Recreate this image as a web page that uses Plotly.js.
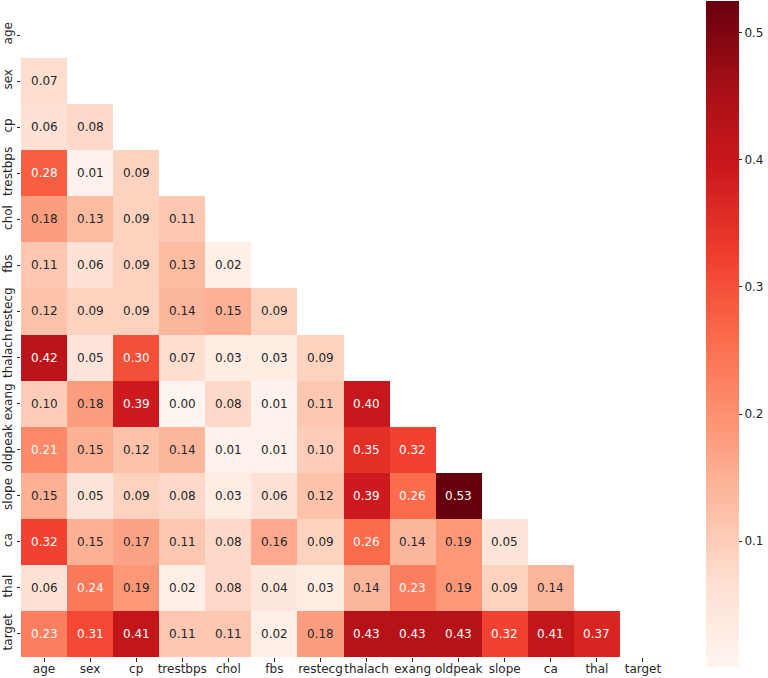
<!DOCTYPE html>
<html>
<head>
<meta charset="utf-8">
<script src="https://cdn.plot.ly/plotly-3.0.1.min.js"></script>
<style>html,body{margin:0;padding:0;background:#fff;}#chart{width:768px;height:678px;}</style>
</head>
<body>
<div id="chart"></div>
<script>
const labels = ["age","sex","cp","trestbps","chol","fbs","restecg","thalach","exang","oldpeak","slope","ca","thal","target"];
// lower-triangle absolute correlations, row by row (row i has i values)
const row_sex      = [0.07];
const row_cp       = [0.06, 0.08];
const row_trestbps = [0.28, 0.01, 0.09];
const row_chol     = [0.18, 0.13, 0.09, 0.11];
const row_fbs      = [0.11, 0.06, 0.09, 0.13, 0.02];
const row_restecg  = [0.12, 0.09, 0.09, 0.14, 0.15, 0.09];
const row_thalach  = [0.42, 0.05, 0.30, 0.07, 0.03, 0.03, 0.09];
const row_exang    = [0.10, 0.18, 0.39, 0.001, 0.08, 0.01, 0.11, 0.40];
const row_oldpeak  = [0.21, 0.15, 0.12, 0.14, 0.01, 0.01, 0.10, 0.35, 0.32];
const row_slope    = [0.15, 0.05, 0.09, 0.08, 0.03, 0.06, 0.12, 0.39, 0.26, 0.53];
const row_ca       = [0.32, 0.15, 0.17, 0.11, 0.08, 0.16, 0.09, 0.26, 0.14, 0.19, 0.05];
const row_thal     = [0.06, 0.24, 0.19, 0.02, 0.08, 0.04, 0.03, 0.14, 0.23, 0.19, 0.09, 0.14];
const row_target   = [0.23, 0.31, 0.41, 0.11, 0.11, 0.02, 0.18, 0.43, 0.43, 0.43, 0.32, 0.41, 0.37];
const rows = [[], row_sex, row_cp, row_trestbps, row_chol, row_fbs, row_restecg, row_thalach,
              row_exang, row_oldpeak, row_slope, row_ca, row_thal, row_target];

const z = rows.map(r => labels.map((_, j) => j < r.length ? r[j] : null));

const reds = [
  [0, "#fff5f0"], [0.125, "#fee0d2"], [0.25, "#fcbba1"], [0.375, "#fc9272"],
  [0.5, "#fb6a4a"], [0.625, "#ef3b2c"], [0.75, "#cb181d"], [0.875, "#a50f15"], [1, "#67000d"]
];

const annotations = [];
rows.forEach((r, i) => r.forEach((v, j) => {
  annotations.push({
    x: labels[j], y: labels[i], xref: "x", yref: "y",
    text: v.toFixed(2), showarrow: false,
    font: {family: "DejaVu Sans", size: 12, color: v > 0.2 ? "#ffffff" : "#262626"}
  });
}));

const trace = {
  type: "heatmap", x: labels, y: labels, z: z,
  colorscale: reds, zmin: 0.001, zmax: 0.525,
  hoverongaps: false, xgap: 0, ygap: 0,
  colorbar: {
    x: 1.062, xanchor: "left", thickness: 33, xpad: 0, ypad: 0,
    lenmode: "pixels", len: 666, y: 0.5008, yanchor: "middle",
    outlinewidth: 0, ticks: "outside", ticklen: 3.5, tickwidth: 1, tickcolor: "#262626",
    tickvals: [0.1, 0.2, 0.3, 0.4, 0.5], ticktext: ["0.1","0.2","0.3","0.4","0.5"],
    tickfont: {family: "DejaVu Sans", size: 12, color: "#262626"}
  }
};

const layout = {
  width: 768, height: 678,
  margin: {l: 21, r: 102, t: 12, b: 21, autoexpand: false},
  paper_bgcolor: "#fff", plot_bgcolor: "#fff",
  xaxis: {type: "category", showgrid: false, zeroline: false, showline: false, automargin: false,
          ticks: "outside", ticklen: 3.5, tickcolor: "#262626", ticklabelstandoff: -3,
          tickfont: {family: "DejaVu Sans", size: 12, color: "#262626"}, tickangle: 0},
  yaxis: {type: "category", autorange: "reversed", showgrid: false, zeroline: false, showline: false, automargin: false,
          ticks: "outside", ticklen: 3.5, tickcolor: "#262626",
          tickfont: {family: "DejaVu Sans", size: 12, color: "#262626"}, tickangle: -90},
  annotations: annotations
};

Plotly.newPlot("chart", [trace], layout, {displayModeBar: false, staticPlot: true});
</script>
</body>
</html>
